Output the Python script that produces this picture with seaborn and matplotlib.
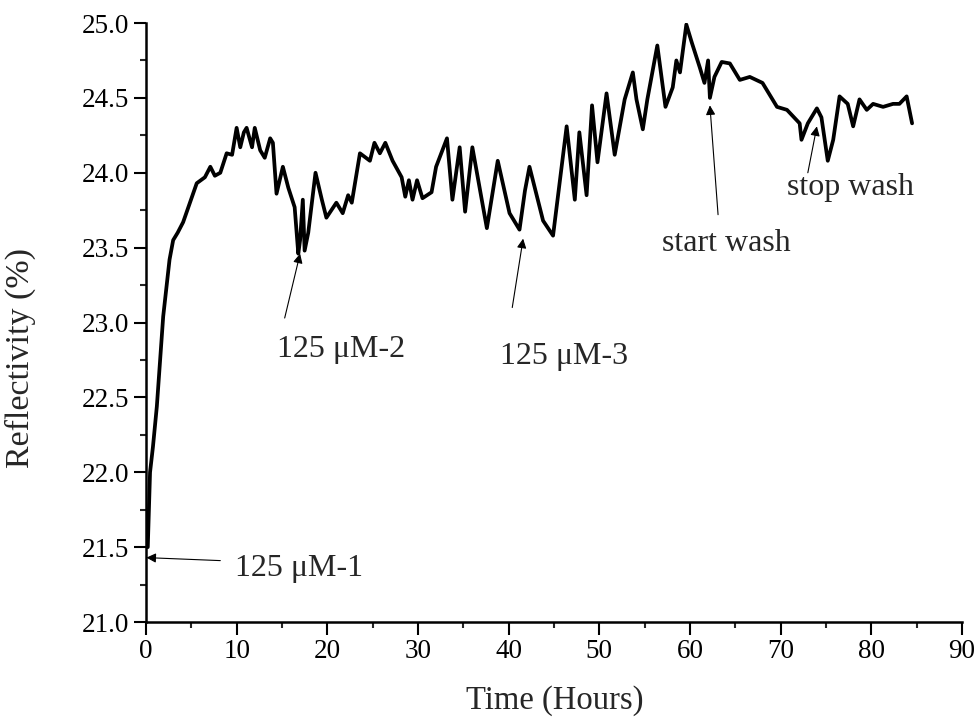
import matplotlib
matplotlib.use("Agg")
import matplotlib.pyplot as plt
import seaborn as sns
import pandas as pd
from matplotlib.ticker import MultipleLocator

time_h = [0.2, 0.45, 0.77, 1.2, 1.9, 2.6, 3.0, 3.5, 4.1, 4.85, 5.6, 6.5, 7.1, 7.6, 8.2, 8.9,
          9.5, 10.0, 10.4, 10.8, 11.1, 11.7, 12.0, 12.6, 13.1, 13.7, 14.0, 14.4, 15.1, 15.7,
          16.4, 16.8, 17.0, 17.3, 17.5, 17.9, 18.7, 19.4, 19.9, 21.0, 21.7, 22.3, 22.7, 23.6,
          24.7, 25.2, 25.8, 26.4, 27.2, 28.2, 28.6, 29.0, 29.4, 29.9, 30.5, 31.5, 32.0, 33.2,
          33.8, 34.6, 35.2, 36.0, 37.6, 38.8, 40.1, 41.2, 41.8, 42.3, 43.8, 44.9, 46.4, 47.3,
          47.8, 48.6, 49.2, 49.8, 50.8, 51.7, 52.8, 53.7, 54.1, 54.8, 55.3, 56.4, 57.3, 58.1,
          58.5, 58.9, 59.6, 60.2, 61.1, 61.6, 62.0, 62.2, 62.7, 63.5, 64.4, 65.5, 66.6, 68.0,
          69.6, 70.7, 72.1, 72.3, 73.0, 74.0, 74.5, 75.2, 75.8, 76.5, 77.4, 78.0, 78.7, 79.5,
          80.2, 81.3, 82.4, 83.1, 83.9, 84.2, 84.5]
reflectivity = [21.5, 22.0, 22.17, 22.44, 23.04, 23.42, 23.55, 23.6, 23.67, 23.8, 23.93, 23.97, 24.04, 23.98, 24.0, 24.13,
                24.12, 24.3, 24.17, 24.27, 24.3, 24.17, 24.3, 24.15, 24.1, 24.23, 24.2, 23.86, 24.04, 23.9,
                23.77, 23.46, 23.55, 23.82, 23.48, 23.6, 24.0, 23.82, 23.7, 23.8, 23.73, 23.85, 23.8, 24.13,
                24.08, 24.2, 24.13, 24.2, 24.08, 23.97, 23.84, 23.95, 23.82, 23.95, 23.83, 23.87, 24.04, 24.23,
                23.82, 24.17, 23.74, 24.17, 23.63, 24.08, 23.73, 23.62, 23.88, 24.04, 23.68, 23.58, 24.31, 23.82,
                24.27, 23.85, 24.45, 24.07, 24.53, 24.12, 24.49, 24.67, 24.49, 24.29, 24.49, 24.85, 24.44, 24.57,
                24.75, 24.67, 24.99, 24.87, 24.7, 24.6, 24.75, 24.5, 24.64, 24.74, 24.73, 24.62, 24.64, 24.6,
                24.44, 24.42, 24.33, 24.22, 24.33, 24.43, 24.37, 24.08, 24.22, 24.51, 24.46, 24.31, 24.49, 24.42,
                24.46, 24.44, 24.46, 24.46, 24.51, 24.42, 24.33]

x_ticks = [0, 10, 20, 30, 40, 50, 60, 70, 80, 90]
y_ticks = [21.0, 21.5, 22.0, 22.5, 23.0, 23.5, 24.0, 24.5, 25.0]

df = pd.DataFrame({"Time (Hours)": time_h, "Reflectivity (%)": reflectivity})

sns.set_theme(style="ticks")
plt.rcParams["font.family"] = ["Liberation Serif", "DejaVu Serif"]

fig = plt.figure(figsize=(9.77, 7.19), dpi=100)
ax = fig.add_axes([0.1494, 0.1349, 0.8352, 0.8331])

sns.lineplot(data=df, x="Time (Hours)", y="Reflectivity (%)", ax=ax, color="black", linewidth=2.7)

ax.set_xlim(0, 90)
ax.set_ylim(21.0, 25.0)
ax.set_xticks(x_ticks)
ax.set_yticks(y_ticks)
ax.set_xticklabels([str(v) for v in x_ticks])
ax.set_yticklabels([f"{v:.1f}" for v in y_ticks])
ax.xaxis.set_minor_locator(MultipleLocator(5))
ax.yaxis.set_minor_locator(MultipleLocator(0.25))
ax.tick_params(which="major", direction="out", length=9, width=1.5, labelsize=19.5, pad=3, colors="black")
ax.tick_params(which="minor", direction="out", length=4.5, width=1.5)
for s in ["top", "right"]:
    ax.spines[s].set_visible(False)
for s in ["left", "bottom"]:
    ax.spines[s].set_linewidth(1.8)
    ax.spines[s].set_color("black")

ax.set_xlabel("Time (Hours)", fontsize=23.5)
ax.set_ylabel("Reflectivity (%)", fontsize=24.5)
ax.xaxis.set_label_coords(0.501, -0.105)
ax.yaxis.set_label_coords(-0.135, 0.44)

arrow = dict(arrowstyle="-|>", color="black", lw=0.8, mutation_scale=14, shrinkA=0, shrinkB=0)
fs = 23
ax.annotate("", xy=(0.05, 21.43), xytext=(8.2, 21.41), arrowprops=arrow)
ax.text(9.8, 21.36, "125 μM-1", fontsize=fs, va="center", ha="left")
ax.annotate("", xy=(17.0, 23.46), xytext=(15.3, 23.03), arrowprops=arrow)
ax.text(14.5, 22.82, "125 μM-2", fontsize=fs, va="center", ha="left")
ax.annotate("", xy=(41.6, 23.56), xytext=(40.4, 23.1), arrowprops=arrow)
ax.text(39.0, 22.77, "125 μM-3", fontsize=fs, va="center", ha="left")
ax.annotate("", xy=(62.2, 24.45), xytext=(63.1, 23.72), arrowprops=arrow)
ax.text(64.0, 23.53, "start wash", fontsize=fs, va="center", ha="center")
ax.annotate("", xy=(74.0, 24.31), xytext=(73.0, 24.0), arrowprops=arrow)
ax.text(77.7, 23.9, "stop wash", fontsize=fs, va="center", ha="center")

fig.savefig("out.png", dpi=100, facecolor="white")
